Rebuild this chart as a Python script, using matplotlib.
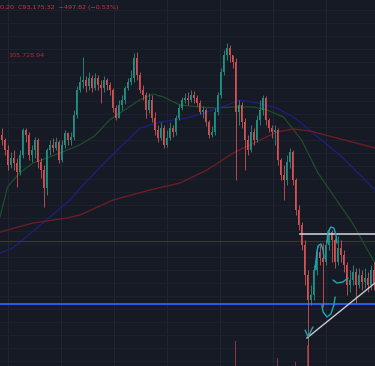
import matplotlib
matplotlib.use("Agg")
import matplotlib.pyplot as plt
import numpy as np

# ---------------- data ----------------
first_open = 101250
closes = [101000, 100500, 99750, 100100, 99850, 99400, 100250, 101500, 101250, 100250,
          100500, 101000, 99900, 99500, 98600, 100500, 100750, 100600, 100900, 100000,
          100750, 101350, 101000, 101150, 102250, 103500, 103900, 104000, 103700, 104100,
          103600, 104100, 103750, 103600, 104000, 103750, 103500, 102600, 102100, 102750,
          103000, 103600, 103900, 104100, 105100, 104250, 103500, 103250, 102500, 103000,
          102100, 101500, 101100, 101600, 100750, 101100, 101600, 101400, 102100, 102600,
          103000, 103100, 103000, 103250, 103100, 102850, 102400, 102500, 101900, 101250,
          101400, 102400, 103250, 104400, 105250, 105600, 105250, 104900, 102400, 102750,
          101900, 101000, 100500, 101400, 101000, 102000, 102500, 103100, 102000, 101600,
          101400, 101500, 100000, 99250, 99000, 99900, 100400, 99000, 97500, 96750,
          95750, 94250, 93000, 93250, 94500, 95400, 95100, 94900, 95750, 96400,
          96000, 94900, 95600, 95250, 94750, 93750, 94000, 94400, 93750, 94250,
          93900, 94100, 93750, 94500, 93850]
highs = [101600, 101100, 100750, 100400, 100500, 100100, 100500, 101600, 101600, 101400,
         100750, 101150, 101100, 100100, 99750, 100600, 101000, 101100, 101150, 101000,
         101000, 101500, 101400, 101400, 102500, 103700, 104200, 105150, 104200, 104400,
         104250, 104350, 104250, 104000, 104200, 104100, 103900, 103600, 102750, 103000,
         103250, 103700, 104100, 104500, 105350, 105400, 104400, 103750, 103400, 103350,
         103250, 102400, 101750, 101900, 101750, 101500, 101900, 101750, 102250, 102800,
         103150, 103350, 103400, 103500, 103450, 103250, 103000, 102700, 102600, 102000,
         101700, 102600, 103400, 104600, 105500, 105850, 105750, 105250, 105100, 103000,
         102900, 102100, 101250, 101750, 101600, 102250, 103000, 103250, 103200, 102100,
         101750, 101750, 101600, 100100, 99750, 100250, 100600, 100500, 99100, 97750,
         96900, 96000, 94500, 93750, 94750, 95750, 95750, 95850, 96000, 96600,
         96500, 96100, 96200, 96000, 95500, 94900, 94500, 94750, 94600, 94600,
         94500, 94600, 94400, 94750, 94900]
lows = [100750, 100250, 99500, 99600, 99500, 98650, 99250, 100100, 100900, 100000,
        99900, 100100, 99600, 99100, 97650, 98250, 100250, 100400, 100500, 99850,
        99900, 100600, 100750, 100750, 101000, 102100, 103400, 103600, 103400, 103500,
        103400, 103500, 103500, 102850, 103400, 103500, 103250, 102400, 102000, 102100,
        102500, 102800, 103500, 103750, 103900, 104000, 103350, 103000, 102100, 102350,
        101900, 101250, 100900, 101000, 100600, 100650, 101000, 101150, 101250, 102000,
        102500, 102850, 102750, 102900, 102850, 102700, 102300, 102100, 101700, 101100,
        101150, 101250, 102250, 103100, 104250, 105000, 104900, 104600, 99000, 101750,
        101600, 99500, 100250, 100400, 100750, 100900, 101750, 102250, 101750, 101400,
        101100, 100750, 99750, 99000, 98000, 98750, 99600, 98750, 97250, 96500,
        95500, 93750, 89500, 92750, 93000, 94250, 94750, 92650, 94750, 95500,
        94900, 94600, 94750, 94900, 94400, 93250, 93400, 93750, 92850, 93600,
        93500, 93600, 93400, 93500, 93500]
volumes = [12, 10, 14, 9, 11, 16, 12, 15, 8, 11,
           9, 10, 13, 12, 20, 18, 9, 8, 10, 12,
           9, 11, 8, 9, 16, 22, 14, 18, 10, 9,
           10, 9, 8, 12, 9, 8, 10, 14, 12, 10,
           9, 11, 10, 12, 20, 18, 14, 10, 13, 10,
           12, 14, 10, 9, 12, 10, 9, 8, 12, 13,
           10, 9, 8, 9, 8, 9, 11, 8, 12, 14,
           9, 14, 16, 22, 24, 18, 14, 12, 54, 20,
           15, 24, 16, 12, 10, 12, 12, 14, 14, 10,
           9, 10, 37, 20, 24, 15, 12, 18, 33, 22,
           24, 28, 50, 20, 18, 16, 12, 26, 15, 14,
           12, 15, 12, 10, 12, 16, 12, 10, 14, 10,
           9, 10, 9, 12, 10]

ma50_idx = [-0.5, 2, 6, 10.5, 16, 22, 26, 31, 36, 41, 46, 50.5, 54, 59.5, 66, 72, 77, 84,
            88.5, 94, 100, 105.5, 111, 117, 122, 124.5]
ma50_val = [97150, 98650, 99350, 99850, 100150, 100500, 100750, 101200, 102000, 102500,
            103000, 103300, 103150, 102750, 102650, 102600, 102650, 102650, 102500, 102150,
            101000, 99350, 98150, 96850, 95500, 94850]
ma100_idx = [-0.5, 3.8, 13.8, 22.8, 27.8, 36.2, 46.2, 52.8, 61.8, 68.5, 75.2, 79.5, 85.2,
             91.8, 97.8, 105.5, 113.5, 121.2, 124.5]
ma100_val = [95350, 95600, 96850, 98000, 98850, 100150, 101600, 101900, 102100, 102400,
             102750, 103000, 102850, 102600, 102100, 101150, 100150, 99000, 98500]
ma200_idx = [-0.5, 10.5, 21.8, 26.2, 37.2, 49.5, 59.5, 68.5, 77.2, 86.2, 91.8, 97.2,
             102.8, 110.5, 119.5, 124.5]
ma200_val = [96400, 96850, 97100, 97250, 98000, 98500, 98850, 99500, 100350, 101000,
             101400, 101550, 101450, 101150, 100800, 100600]

support_level = 92800        # blue horizontal line
prev_close_level = 95950     # thin red line
triangle_top = 96300         # white horizontal line
triangle_top_start = 99.5
trend_idx = [101.8, 124.5]
trend_val = [91100, 93850]

# hand-drawn teal annotations (candle index, price)
ann_check = ([101.2, 102.2, 103.8], [91500, 91150, 91650])
ann_loop1 = ([104.5, 105.2, 105.8, 106.5, 107.2, 107.5], [94500, 95500, 95750, 95800, 95500, 95100])
ann_loop2 = ([108.5, 108.8, 109.8, 110.8, 111.5, 111.8], [95850, 96400, 96650, 96600, 96250, 95850])
ann_u = ([106.8, 107.2, 108.5, 109.8, 110.8, 111.2], [92750, 92400, 92150, 92300, 92750, 93150])
ann_smile = ([110.5, 111.8, 113.8, 115.5], [94000, 93850, 93900, 94100])

legend_text = "0.20  C93,175.32  \u2212497.82 (\u22120.53%)"
price_label = "105,728.94"

# ---------------- drawing ----------------
BG = "#161a25"
UP = "#22a08f"
DOWN = "#e8595a"

fig = plt.figure(figsize=(3.75, 3.66), dpi=100, facecolor=BG)
ax = fig.add_axes([0, 0, 1, 1])
ax.set_facecolor(BG)

n = len(closes)
idx = np.arange(n)
c = np.array(closes, float)
o = np.concatenate([[first_open], c[:-1]])
h = np.maximum.reduce([np.array(highs, float), o, c])
l = np.minimum.reduce([np.array(lows, float), o, c])
up = c >= o
cols = np.where(up, UP, DOWN)

# grid
for gx in np.arange(2.17, 125, 17.67):
    ax.axvline(gx, color="#222633", lw=0.7, zorder=0)
for gy in np.arange(89700 + 650 * 0.4, 108000, 650):
    ax.axhline(gy, color="#1f2330", lw=0.6, zorder=0)

# volume pane (baseline sits below the visible area)
axv = ax.twinx()
axv.set_ylim(29, 395)
axv.bar(idx, volumes, bottom=0, width=0.6, color=cols, alpha=0.5, zorder=1)
axv.axis("off")

# MAs
ax.plot(ma50_idx, ma50_val, color="#1e4d2b", lw=0.9, zorder=2)
ax.plot(ma100_idx, ma100_val, color="#1c1f7a", lw=1.0, zorder=2)
ax.plot(ma200_idx, ma200_val, color="#6b1c24", lw=1.0, zorder=2)

# horizontal levels
ax.axhline(prev_close_level, color="#5a2a33", lw=0.8, zorder=2)
ax.axhline(support_level, color="#2962ff", lw=1.3, zorder=3)

# candles
ax.vlines(idx, l, h, colors=cols, lw=0.6, zorder=4, alpha=0.9)
body_b = np.minimum(o, c)
body_h = np.maximum(np.abs(c - o), 40)
ax.bar(idx, body_h, bottom=body_b, width=0.65, color=cols, lw=0, zorder=5, alpha=0.9)

# drawings
ax.plot([triangle_top_start, 124.5], [triangle_top, triangle_top], color="#c9cacf", lw=1.2, zorder=6)
ax.plot(trend_idx, trend_val, color="#c9cacf", lw=1.0, zorder=6)
for xs, ys in (ann_check, ann_loop1, ann_loop2, ann_u, ann_smile):
    ax.plot(xs, ys, color="#1fa5b5", lw=1.0, zorder=7, solid_capstyle="round")

ax.set_xlim(-0.5, 124.5)
ax.set_ylim(108000 - 50 * 366, 108000)
ax.axis("off")

ax.text(0.0, 0.985, legend_text, transform=ax.transAxes, color="#c0393f",
        fontsize=4.6, ha="left", va="top", family="DejaVu Sans")
ax.text(0.021, 0.848, price_label, transform=ax.transAxes, color="#b22a33",
        fontsize=4.6, ha="left", va="center", family="DejaVu Sans")

fig.savefig("out.png", dpi=100, facecolor=BG)
